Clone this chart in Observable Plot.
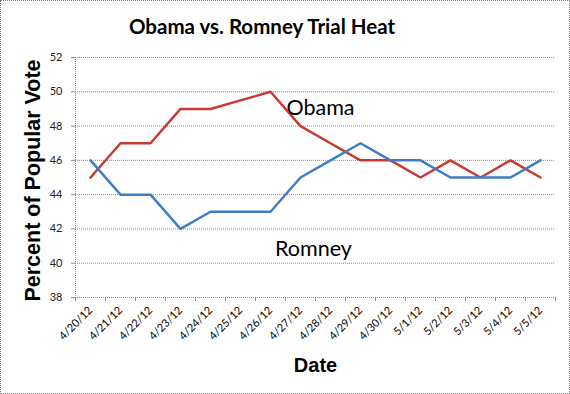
<!DOCTYPE html>
<html>
<head>
<meta charset="utf-8">
<script src="https://cdn.jsdelivr.net/npm/d3@7"></script>
<script src="https://cdn.jsdelivr.net/npm/@observablehq/plot@0.6"></script>
<style>
  html, body { margin: 0; padding: 0; background: white; }
  #chart { position: relative; width: 570px; height: 394px; box-sizing: border-box; border: 1px dotted #808080; background: white; overflow: hidden; }
  #title { position: absolute; left: 0; top: 0; width: 522px; height: 43px; line-height: 50px; text-align: center; font-family: Lato, "Open Sans", sans-serif; font-weight: bold; font-size: 20.5px; color: #000; }
  #plot { position: absolute; left: 0; top: 43px; }
</style>
</head>
<body>
<div id="chart">
  <div id="title">Obama vs. Romney Trial Heat</div>
  <div id="plot"></div>
</div>
<script>
const dates = ["4/20/12","4/21/12","4/22/12","4/23/12","4/24/12","4/25/12","4/26/12","4/27/12","4/28/12","4/29/12","4/30/12","5/1/12","5/2/12","5/3/12","5/4/12","5/5/12"];
const obama  = [45, 47, 47, 49, 49, 49.5, 50, 48, 47, 46, 46, 45, 46, 45, 46, 45];
const romney = [46, 44, 44, 42, 43, 43, 43, 45, 46, 47, 46, 46, 45, 45, 45, 46];
const yTicks = [38, 40, 42, 44, 46, 48, 50, 52];
const series = ["Obama", "Romney"];
const colors = ["#c83a32", "#3f7dc8"];

const data = [
  ...dates.map((d, i) => ({date: d, candidate: "Obama", value: obama[i]})),
  ...dates.map((d, i) => ({date: d, candidate: "Romney", value: romney[i]}))
];

const grid = "#8a8a8a";

const chart = Plot.plot({
  width: 568,
  height: 349,
  marginLeft: 74,
  marginRight: 14,
  marginTop: 13,
  marginBottom: 96,
  style: {fontFamily: "Lato, 'Open Sans', sans-serif", background: "white", overflow: "visible", color: "#000"},
  x: {type: "point", domain: dates, padding: 0.5, label: null},
  y: {domain: [38, 52], label: null},
  color: {domain: series, range: colors},
  marks: [
    Plot.gridY(yTicks, {stroke: grid, strokeOpacity: 1, strokeDasharray: "1,1"}),
    Plot.ruleX([dates[0]], {dx: -15, stroke: grid, strokeDasharray: "1,1"}),
    Plot.ruleX(dates, {dx: -15, insetTop: 240, insetBottom: -4, stroke: grid}),
    Plot.ruleX([dates[dates.length - 1]], {dx: 15, insetTop: 240, insetBottom: -4, stroke: grid}),
    Plot.axisY(yTicks, {tickSize: 4, tickPadding: 9, fontSize: 11, stroke: grid, label: null, fill: "#222"}),
    Plot.axisX({tickSize: 0, tickRotate: -45, tickPadding: 11, fontSize: 11, label: null, fill: "#000"}),
    Plot.line(data, {x: "date", y: "value", stroke: "candidate", strokeWidth: 2.5, strokeLinejoin: "miter"}),
    Plot.text(["Obama"], {x: () => "4/28/12", y: () => 49.05, dx: -10, text: d => d, fontSize: 21.5, fontFamily: "Lato, 'Open Sans', sans-serif", fill: "#000", lineAnchor: "middle"}),
    Plot.text(["Romney"], {x: () => "4/28/12", y: () => 40.8, dx: -17, text: d => d, fontSize: 21.5, fontFamily: "Lato, 'Open Sans', sans-serif", fill: "#000", lineAnchor: "middle"}),
    Plot.text(["Percent of Popular Vote"], {frameAnchor: "left", dx: -42, dy: 3, rotate: -90, text: d => d, fontSize: 21.5, fontWeight: "bold", fontFamily: "'Liberation Sans', Arial, sans-serif", fill: "#000", textAnchor: "middle", lineAnchor: "middle"}),
    Plot.text(["Date"], {frameAnchor: "bottom", dy: 68, text: d => d, fontSize: 20, fontWeight: "bold", fontFamily: "'Liberation Sans', Arial, sans-serif", fill: "#000", textAnchor: "middle", lineAnchor: "middle"})
  ]
});
document.getElementById("plot").appendChild(chart);
</script>
</body>
</html>
